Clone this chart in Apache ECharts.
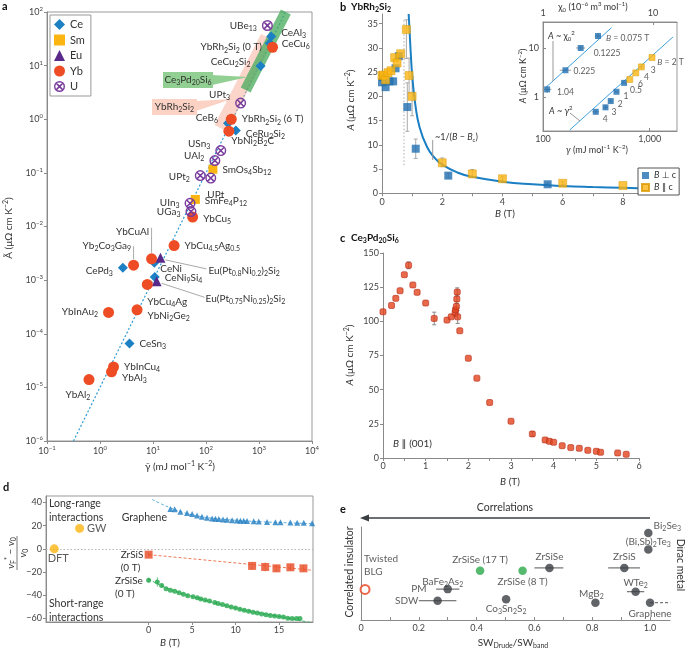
<!DOCTYPE html>
<html>
<head>
<meta charset="utf-8">
<script src="https://cdn.jsdelivr.net/npm/echarts@6/dist/echarts.min.js"></script>
<style>
html, body { margin: 0; padding: 0; background: #fff; }
#main { width: 685px; height: 651px; }
</style>
</head>
<body>
<div id="main"></div>
<script>
const FONT = 'Lato, "Noto Sans", "DejaVu Sans", sans-serif';

// ---- a: Kadowaki-Woods plot ----
const aNames = ['UBe_{13}', 'CeAl_3', 'CeCu_6', 'YbRh_2Si_2 (0 T)', 'CeCu_2Si_2', 'UPt_3', 'YbRh_2Si_2 (6 T)', 'CeB_6',
  'CeRu_2Si_2', 'YbNi_2B_2C', 'USn_3', 'UAl_2', 'SmOs_4Sb_{12}', 'UPt_2', 'UPt', 'SmFe_4P_{12}', 'UIn_3', 'UGa_3', 'YbCu_5',
  'YbCu_{4.5}Ag_{0.5}', 'Yb_2Co_3Ga_9', 'YbCuAl', 'Eu(Pt_{0.8}Ni_{0.2})_2Si_2', 'CeNi', 'CePd_3', 'CeNi_9Si_4',
  'Eu(Pt_{0.75}Ni_{0.25})_2Si_2', 'YbCu_4Ag', 'YbInAu_2', 'YbNi_2Ge_2', 'CeSn_3', 'YbInCu_4', 'YbAl_3', 'YbAl_2'];
const aGroup = ['U', 'Ce', 'Ce', 'Yb', 'Ce', 'U', 'Yb', 'Ce', 'Ce', 'Yb', 'U', 'U', 'Sm', 'U', 'U', 'Sm', 'U', 'U', 'Yb',
  'Yb', 'Yb', 'Yb', 'Eu', 'Ce', 'Ce', 'Ce', 'Eu', 'Yb', 'Yb', 'Yb', 'Ce', 'Yb', 'Yb', 'Yb'];
const aGamma = [1440, 1700, 1590, 1800, 1070, 450, 300, 260, 365, 270, 190, 147, 135, 78, 123, 63, 50, 52, 56,
  25, 4.3, 9.4, 13.8, 10.6, 2.7, 10.8, 11.7, 7.8, 1.45, 5, 3.6, 1.8, 1.65, 0.62];
const aA = [56, 35, 26, 22, 9.8, 2.0, 1.0, 0.84, 0.62, 0.6, 0.26, 0.17, 0.117, 0.089, 0.08, 0.032, 0.027, 0.019, 0.015,
  0.0044, 0.0019, 0.0025, 0.0026, 0.0021, 0.0017, 0.00114, 0.00095, 0.00083, 0.00025, 0.00028, 0.000066, 0.000024, 0.0000195, 0.000014];
const kwGamma = [0.316, 3162];
const kwA = [1e-6, 100];
const pinkBandGamma = [190, 1430];
const pinkBandA = [0.68, 34];
const greenBandGamma = [560, 3210];
const greenBandA = [3.5, 100];

// ---- b: YbRh2Si2 ----
const bPerpB = [0, 0.03, 0.12, 0.25, 0.37, 0.45, 0.56, 0.84, 1.12, 2.2, 5.5];
const bPerpA = [22.9, 24.0, 21.9, 23.1, 23.1, 25.8, 28.3, 17.8, 9.2, 3.65, 1.86];
const bParB = [0, 0.05, 0.12, 0.2, 0.3, 0.42, 0.5, 0.62, 0.81, 0.9, 1.0, 2.0, 3.0, 4.0, 6.0, 8.0];
const bParA = [24.3, 24.4, 23.4, 24.9, 25.3, 28.0, 26.9, 28.8, 33.8, 24.3, 20.0, 6.3, 4.0, 3.0, 2.07, 1.6];
const bErr = [[0.81, 33.8, 27.8, 35.8], [0.84, 17.8, 12.8, 22.8], [0.9, 24.3, 20.7, 27.9], [1.0, 20.0, 16.0, 24.0],
  [1.12, 9.2, 7.2, 11.2], [2.0, 6.3, 5.5, 7.3], [2.2, 3.65, 3.2, 4.1], [3.0, 4.0, 3.3, 4.9], [4.0, 3.0, 2.7, 3.4],
  [5.5, 1.86, 1.6, 2.1], [6.0, 2.07, 1.8, 2.4]];
const bCurveB = [0.885, 0.92, 0.96, 1.0, 1.1, 1.25, 1.5, 1.75, 2, 2.5, 3, 4, 5, 6, 7, 8, 8.5];
const bCurveA = [37, 33, 28.3, 24.6, 18.6, 13.6, 9.5, 7.3, 5.9, 4.3, 3.4, 2.4, 1.85, 1.5, 1.28, 1.12, 1.05];
const bBcB = [0.73, 0.73];
const bBcA = [5.8, 36];

// inset of b
const iChiX = [1.09, 1.6, 2.2, 3.16];
const iChiA = [1.42, 3.5, 10, 17.6];
const iChiLab = ['1.04', '0.225', '0.1225', '$B$ = 0.075 T'];
const iGamBlueX = [312, 385, 431, 488, 575];
const iGamBlueA = [0.494, 0.61, 0.82, 1.27, 1.93];
const iGamBlueLab = ['4', '3', '2', '1', '0.5'];
const iGamYelX = [650, 740, 835, 1050];
const iGamYelA = [2.27, 3.09, 4.1, 6.37];
const iGamYelLab = ['6', '4', '3', '$B$ = 2 T'];
const iChiLineX = [1.06, 4.19];
const iChiLineA = [1.55, 26];
const iGamLineX = [178, 1650];
const iGamLineA = [0.21, 16.8];
const iChiErrH = [[1.09, 1.42, 1.0, 1.19], [1.6, 3.5, 1.42, 1.8], [2.2, 10, 2.0, 2.42], [3.16, 17.6, 2.95, 3.38]];
const iChiErrV = [[1.09, 1.42, 1.2, 1.68], [2.2, 10, 9, 11], [3.16, 17.6, 15.5, 20]];
const iGamErrH = [[312, 0.494, 290, 335], [385, 0.61, 365, 405], [431, 0.82, 410, 452], [488, 1.27, 465, 512], [575, 1.93, 550, 600], [835, 4.1, 800, 870]];
const iGamErrV = [[312, 0.494, 0.44, 0.55], [385, 0.61, 0.55, 0.68], [431, 0.82, 0.76, 0.9], [835, 4.1, 3.7, 4.5]];

// ---- c: Ce3Pd20Si6 ----
const cB = [0, 0.2, 0.3, 0.4, 0.5, 0.6, 0.7, 0.8, 1.0, 1.2, 1.5, 1.6, 1.69, 1.7, 1.72, 1.73, 1.74, 1.75, 1.8, 2.0,
  2.2, 2.5, 3.0, 3.5, 3.8, 3.9, 4.0, 4.2, 4.4, 4.6, 4.8, 5.0, 5.1, 5.5, 5.7];
const cA = [107, 111.6, 116.8, 122.4, 134.1, 141, 126.6, 121.2, 113.4, 102.1, 100.9, 103.3, 106.5, 108.5, 110.9, 116.3, 121.4, 103.3, 93.1, 73,
  58.4, 40.6, 26.9, 17.6, 13.2, 12.2, 11.5, 9.0, 7.6, 7.1, 5.6, 4.9, 4.2, 3.7, 2.7];
const cErr = [[0.6, 141, 138.5, 143.5], [1.2, 102.1, 97.5, 106.7], [1.69, 106.5, 103.5, 109.5], [1.72, 110.9, 107, 114.5],
  [1.73, 116.3, 113, 119.5], [1.74, 121.4, 118.5, 124.5], [1.75, 103.3, 98.5, 108], [3.5, 17.6, 16, 19.2]];

// ---- d: Fermi velocity renormalization ----
const dGrB = [2.5, 3.0, 3.65, 4.42, 5.0, 5.57, 6.14, 6.72, 7.3, 7.68, 8.06, 8.56, 9.02, 9.6, 10.17, 10.55, 10.93, 11.32,
  12.08, 12.66, 13.62, 14.58, 15.16, 16.3, 17.08, 17.84, 18.8];
const dGrV = [34.4, 34.0, 32.0, 30.9, 30.0, 28.8, 27.6, 26.8, 26.2, 25.9, 25.6, 25.3, 25.0, 24.7, 24.4, 24.1, 24.1, 24.0,
  23.8, 23.5, 23.2, 22.9, 22.9, 22.6, 22.4, 22.4, 22.1];
const dGrFitB = [0.4, 1.5, 2.5, 4, 6, 8, 10, 13, 16, 18.9];
const dGrFitV = [42.6, 38.5, 35.3, 31.3, 27.8, 25.9, 24.6, 23.3, 22.4, 21.6];
const dSB = [0, 11.9, 13.4, 14.7, 16.3, 17.8];
const dSV = [-5, -14.7, -15.6, -16.8, -15.9, -16.8];
const dSFitB = [0, 18.9];
const dSFitV = [-5, -18.5];
const dSErr = [[0, -5, -7, -3], [11.9, -14.7, -18, -11.4], [13.4, -15.6, -19.5, -11.7], [14.7, -16.8, -19.8, -13.8],
  [16.3, -15.9, -19, -12.8], [17.8, -16.8, -19.5, -14]];
const dSeB = [0, 1, 1.5, 2, 2.5, 3, 3.5, 4, 4.5, 5.1, 5.6, 6, 6.5, 7, 7.6, 8, 8.5, 9, 9.5, 10, 10.5, 11, 11.5, 12, 12.5,
  13, 13.5, 14, 14.5, 15, 15.5, 16, 16.5, 17, 17.4];
const dSeV = [-27, -28.5, -31.5, -34.4, -35.6, -36.5, -37.9, -39.1, -40.3, -41.2, -42.1, -43.2, -44.1, -45.0, -46.2,
  -47.1, -47.9, -49.1, -50, -50.9, -52.1, -52.9, -53.8, -54.7, -55.3, -56.2, -56.8, -57.4, -57.9, -58.2, -58.8, -59.7, -60, -60, -60];
const dSeFitB = [0, 2, 5, 10, 15, 18.9];
const dSeFitV = [-26, -33.5, -41, -51, -58.3, -63.8];
const dSeErr = [[0, -27, -29, -25], [1, -28.5, -32.5, -24.5], [1.5, -31.5, -33.5, -29.5]];
const dTheoryNames = ['GW', 'DFT'];
const dTheoryB = [-7.94, -10.85];
const dTheoryV = [17.6, 0];

// ---- e: spectral weight ----
const eDarkNames = ['Bi_2Se_3', '(Bi,Sb)_2Te_3', 'ZrSiS', 'ZrSiSe', 'PM', 'SDW', 'Co_3Sn_2S_2', 'MgB_2', 'WTe_2', 'Graphene'];
const eDarkX = [0.994, 0.994, 0.911, 0.652, 0.3, 0.265, 0.502, 0.811, 0.95, 1.0];
const eDarkY = [93.6, 75.7, 56, 56, 33.2, 20.7, 22.2, 18.6, 30.4, 18.6];
const eGreenNames = ['ZrSiSe (17 T)', 'ZrSiSe (8 T)'];
const eGreenX = [0.412, 0.559];
const eGreenY = [52.9, 52.9];
const eRedNames = ['Twisted\nBLG'];
const eRedX = [0.014];
const eRedY = [32.9];
const eNoteNames = ['BaFe_2As_2'];
const eNoteX = [0.3];
const eNoteY = [33.2];
const eErr = [[0.911, 56, 0.855, 0.965], [0.652, 56, 0.6, 0.7], [0.3, 33.2, 0.26, 0.34], [0.265, 20.7, 0.2, 0.33], [0.95, 30.4, 0.92, 0.98]];
const eGraphDashX = [1.0, 1.07];
const eGraphDashY = [18.6, 18.6];

// rich text helpers: _x / _{..} subscript, ^x / ^{..} superscript, $..$ italic
function makeRich(sz, col, wt) {
  col = col || '#333';
  wt = wt || 'normal';
  const base = { fontFamily: FONT, color: col, fill: col, fontWeight: wt };
  return {
    n: Object.assign({}, base, { fontSize: sz, lineHeight: Math.round(sz * 1.3) }),
    i: Object.assign({}, base, { fontSize: sz, lineHeight: Math.round(sz * 1.3), fontStyle: 'italic' }),
    s: Object.assign({}, base, { fontSize: Math.round(sz * 0.68), lineHeight: Math.round(sz * 0.55), verticalAlign: 'bottom' }),
    p: Object.assign({}, base, { fontSize: Math.round(sz * 0.68), lineHeight: Math.round(sz * 0.6), verticalAlign: 'top' })
  };
}
function rt(str) {
  let out = '', buf = '', ital = false;
  const flush = function () {
    if (buf) { out += '{' + (ital ? 'i' : 'n') + '|' + buf + '}'; buf = ''; }
  };
  for (let i = 0; i < str.length; i++) {
    const c = str[i];
    if (c === '_' || c === '^') {
      flush();
      let grp;
      if (str[i + 1] === '{') { const j = str.indexOf('}', i); grp = str.slice(i + 2, j); i = j; }
      else { grp = str[i + 1]; i++; }
      out += '{' + (c === '_' ? 's' : 'p') + '|' + grp + '}';
    } else if (c === '$') {
      flush(); ital = !ital;
    } else if (c === '\n') {
      flush(); out += '\n';
    } else buf += c;
  }
  flush();
  return out;
}

const R10 = makeRich(10);
const R9 = makeRich(9);
const R85 = makeRich(8.5);
const RT9 = makeRich(9, '#444');

function axis(o) {
  const base = {
    axisLine: { show: true, onZero: false, lineStyle: { color: '#8a8a8a', width: 1 } },
    axisTick: { show: true, length: 3, lineStyle: { color: '#8a8a8a' } },
    axisLabel: { color: '#444', fontSize: 9, fontFamily: FONT, margin: 4 },
    splitLine: { show: false }
  };
  for (const k in o) {
    if (base[k] && typeof o[k] === 'object' && !Array.isArray(o[k])) base[k] = Object.assign({}, base[k], o[k]);
    else base[k] = o[k];
  }
  return base;
}
const logFmt = function (v) {
  const e = Math.round(Math.log10(v));
  return '{n|10}{p|' + String(e).replace('-', '−') + '}';
};
const minus = function (v) { return String(v).replace('-', '−'); };
function range(a, b, st) { const r = []; for (let v = a; v <= b + 1e-9; v += st) r.push(Math.round(v * 1000) / 1000); return r; }

function errV(color, cap) {
  return function (params, api) {
    const x = api.value(0), lo = api.value(2), hi = api.value(3);
    const a = api.coord([x, lo]), b = api.coord([x, hi]);
    const st = { stroke: color, lineWidth: 1 };
    const ch = [{ type: 'line', shape: { x1: a[0], y1: a[1], x2: b[0], y2: b[1] }, style: st }];
    if (cap) {
      ch.push({ type: 'line', shape: { x1: a[0] - cap, y1: a[1], x2: a[0] + cap, y2: a[1] }, style: st });
      ch.push({ type: 'line', shape: { x1: b[0] - cap, y1: b[1], x2: b[0] + cap, y2: b[1] }, style: st });
    }
    return { type: 'group', children: ch };
  };
}
function errH(color, cap) {
  return function (params, api) {
    const y = api.value(1), lo = api.value(2), hi = api.value(3);
    const a = api.coord([lo, y]), b = api.coord([hi, y]);
    const st = { stroke: color, lineWidth: 1 };
    const ch = [{ type: 'line', shape: { x1: a[0], y1: a[1], x2: b[0], y2: b[1] }, style: st }];
    if (cap) {
      ch.push({ type: 'line', shape: { x1: a[0], y1: a[1] - cap, x2: a[0], y2: a[1] + cap }, style: st });
      ch.push({ type: 'line', shape: { x1: b[0], y1: b[1] - cap, x2: b[0], y2: b[1] + cap }, style: st });
    }
    return { type: 'group', children: ch };
  };
}
function errSeries(data, xi, yi, render, z) {
  return { type: 'custom', xAxisIndex: xi, yAxisIndex: yi, renderItem: render, data: data, z: z || 3, silent: true, clip: false };
}
function zip(xs, ys) { return xs.map(function (x, i) { return [x, ys[i]]; }); }
function labelled(names, xs, ys, pos) {
  return names.map(function (n, i) {
    const lp = pos[n] || ['right', 0, 0];
    const lab = { position: lp[0], offset: [lp[1], lp[2]] };
    if (lp[3]) lab.align = lp[3];
    return { name: n, value: [xs[i], ys[i]], label: lab };
  });
}

const U_PATH = 'path://M5,0A5,5,0,1,1,5,10A5,5,0,1,1,5,0ZM5,1.3A3.7,3.7,0,1,0,5,8.7A3.7,3.7,0,1,0,5,1.3Z' +
  'M2.7,1.7L8.3,7.3L7.3,8.3L1.7,2.7ZM8.3,2.7L2.7,8.3L1.7,7.3L7.3,1.7Z';
const aGroups = [
  { name: 'Ce', symbol: 'diamond', size: 10, color: '#1b80c4' },
  { name: 'Sm', symbol: 'rect', size: 9, color: '#fbb512' },
  { name: 'Eu', symbol: 'triangle', size: 10, color: '#5a2a8a' },
  { name: 'Yb', symbol: 'circle', size: 11, color: '#ee4c24' },
  { name: 'U', symbol: U_PATH, size: 11, color: '#7a3c9c' }
];
const aLabel = {
  'UBe_{13}': ['left', 0, 0], 'CeAl_3': ['right', 0, -4], 'CeCu_6': ['right', 2, 0], 'YbRh_2Si_2 (0 T)': ['left', 0, 0],
  'CeCu_2Si_2': ['left', 0, -4], 'UPt_3': ['left', 0, -8], 'YbRh_2Si_2 (6 T)': ['right', 0, 0], 'CeB_6': ['left', 0, -6],
  'CeRu_2Si_2': ['right', 0, 3], 'YbNi_2B_2C': ['right', -8, 10], 'USn_3': ['left', 0, -7], 'UAl_2': ['left', 0, -5],
  'SmOs_4Sb_{12}': ['right', 0, 1], 'UPt_2': ['left', 0, 1], 'UPt': ['bottom', 5, 0], 'SmFe_4P_{12}': ['right', 0, 1],
  'UIn_3': ['left', 0, -1], 'UGa_3': ['left', 0, 0], 'YbCu_5': ['right', 0, 2], 'YbCu_{4.5}Ag_{0.5}': ['right', 0, 0],
  'Yb_2Co_3Ga_9': ['left', 8, -19], 'YbCuAl': ['left', 8, -27], 'Eu(Pt_{0.8}Ni_{0.2})_2Si_2': ['right', 38, 13],
  'CeNi': ['right', -4, 6], 'CePd_3': ['left', 0, 3], 'CeNi_9Si_4': ['right', 0, 1],
  'Eu(Pt_{0.75}Ni_{0.25})_2Si_2': ['right', 39, 17], 'YbCu_4Ag': ['bottom', 20, 0], 'YbInAu_2': ['left', 0, -1],
  'YbNi_2Ge_2': ['right', 0, 6], 'CeSn_3': ['right', 0, 0], 'YbInCu_4': ['right', 0, 0], 'YbAl_3': ['right', 0, 6],
  'YbAl_2': ['bottom', -11, -2]
};
const aLeaders = {
  'Yb_2Co_3Ga_9': [0, -6, 0, -19], 'YbCuAl': [0, -6, 0, -31],
  'Eu(Pt_{0.8}Ni_{0.2})_2Si_2': [5, 2, 46, 11], 'Eu(Pt_{0.75}Ni_{0.25})_2Si_2': [5, 2, 48, 16]
};
const iLabel = {
  '1.04': ['right', 2, 3], '0.225': ['right', 0, 1], '0.1225': ['right', 5, 5], '$B$ = 0.075 T': ['right', 0, 2]
};
const iLabelBlue = { '4': ['right', -1, 7], '3': ['right', -2, 5], '2': ['right', -1, 3], '1': ['right', -1, 4], '0.5': ['right', -2, 7] };
const iLabelYel = { '6': ['right', 0, 5], '4': ['right', 0, 4], '3': ['right', 1, 3], '$B$ = 2 T': ['right', -3, 5] };
const eLabel = {
  'Bi_2Se_3': ['right', -4, -7], '(Bi,Sb)_2Te_3': ['top', 0, 8], 'ZrSiS': ['top', 0, 5], 'ZrSiSe': ['top', 0, 5],
  'PM': ['left', -12, 0], 'SDW': ['left', -10, 0], 'Co_3Sn_2S_2': ['bottom', 0, -6], 'MgB_2': ['top', -4, 7],
  'WTe_2': ['top', 0, 7], 'Graphene': ['bottom', 0, -5], 'ZrSiSe (17 T)': ['top', 0, 5], 'ZrSiSe (8 T)': ['bottom', 0, -5],
  'Twisted\nBLG': ['top', -1, -1, 'left'], 'BaFe_2As_2': ['top', -5, 4]
};
const dLabel = { 'GW': ['right', -2, 0], 'DFT': ['bottom', 4, -7] };

const chart = echarts.init(document.getElementById('main'));

const series = [];
// a
series.push({ type: 'line', xAxisIndex: 0, yAxisIndex: 0, data: zip(kwGamma, kwA), symbol: 'none', silent: true, z: 1,
  lineStyle: { color: '#2e9bd6', width: 1.2, type: [2, 2] } });
series.push({ type: 'line', xAxisIndex: 0, yAxisIndex: 0, data: zip(pinkBandGamma, pinkBandA), symbol: 'none', silent: true, z: 1,
  lineStyle: { color: 'rgba(247,172,150,0.5)', width: 14 } });
series.push({ type: 'line', xAxisIndex: 0, yAxisIndex: 0, data: zip(greenBandGamma, greenBandA), symbol: 'none', silent: true, z: 1,
  lineStyle: { color: 'rgba(70,170,90,0.75)', width: 11 } });
aGroups.forEach(function (g) {
  const idx = aNames.map(function (n, i) { return i; }).filter(function (i) { return aGroup[i] === g.name; });
  series.push({
    name: g.name, type: 'scatter', xAxisIndex: 0, yAxisIndex: 0, symbol: g.symbol, symbolSize: g.size, z: 5,
    itemStyle: { color: g.color, opacity: 1 },
    label: { show: true, formatter: function (p) { return rt(p.name); }, rich: R10 },
    data: labelled(idx.map(function (i) { return aNames[i]; }), idx.map(function (i) { return aGamma[i]; }),
      idx.map(function (i) { return aA[i]; }), aLabel)
  });
});
// b
series.push({ type: 'line', xAxisIndex: 1, yAxisIndex: 1, data: zip(bBcB, bBcA), symbol: 'none', silent: true,
  lineStyle: { color: '#aaa', width: 1, type: [1.5, 2] } });
series.push({ type: 'line', xAxisIndex: 1, yAxisIndex: 1, data: zip(bCurveB, bCurveA), symbol: 'none', smooth: true, silent: true,
  lineStyle: { color: '#1b7fc4', width: 2 } });
series.push(errSeries(bErr, 1, 1, errV('#aaa', 2)));
series.push({ name: 'B ⊥ c', type: 'scatter', xAxisIndex: 1, yAxisIndex: 1, symbol: 'rect', symbolSize: 8, z: 5,
  itemStyle: { color: '#1f6fb0' }, data: zip(bPerpB, bPerpA) });
series.push({ name: 'B ∥ c', type: 'scatter', xAxisIndex: 1, yAxisIndex: 1, symbol: 'rect', symbolSize: 8, z: 5,
  itemStyle: { color: '#fbb512', borderColor: '#d99a00', borderWidth: 0.6 }, data: zip(bParB, bParA) });
// inset
series.push({ type: 'line', xAxisIndex: 3, yAxisIndex: 2, data: zip(iChiLineX, iChiLineA), symbol: 'none', silent: true,
  lineStyle: { color: '#3ea0dd', width: 1 } });
series.push({ type: 'line', xAxisIndex: 2, yAxisIndex: 2, data: zip(iGamLineX, iGamLineA), symbol: 'none', silent: true,
  lineStyle: { color: '#3ea0dd', width: 1 } });
series.push(errSeries(iChiErrH, 3, 2, errH('#999', 0)));
series.push(errSeries(iChiErrV, 3, 2, errV('#999', 0)));
series.push(errSeries(iGamErrH, 2, 2, errH('#999', 0)));
series.push(errSeries(iGamErrV, 2, 2, errV('#999', 0)));
series.push({ type: 'scatter', xAxisIndex: 3, yAxisIndex: 2, symbol: 'rect', symbolSize: 6, z: 5, itemStyle: { color: '#1f6fb0' },
  label: { show: true, formatter: function (p) { return rt(p.name); }, rich: R85 }, data: labelled(iChiLab, iChiX, iChiA, iLabel) });
series.push({ type: 'scatter', xAxisIndex: 2, yAxisIndex: 2, symbol: 'rect', symbolSize: 6, z: 5, itemStyle: { color: '#1f6fb0' },
  label: { show: true, formatter: function (p) { return rt(p.name); }, rich: R85 }, data: labelled(iGamBlueLab, iGamBlueX, iGamBlueA, iLabelBlue) });
series.push({ type: 'scatter', xAxisIndex: 2, yAxisIndex: 2, symbol: 'rect', symbolSize: 6, z: 5,
  itemStyle: { color: '#fbb512', borderColor: '#d99a00', borderWidth: 0.6 },
  label: { show: true, formatter: function (p) { return rt(p.name); }, rich: R85 }, data: labelled(iGamYelLab, iGamYelX, iGamYelA, iLabelYel) });
// c
series.push(errSeries(cErr, 4, 3, errV('#888', 2)));
series.push({ type: 'scatter', xAxisIndex: 4, yAxisIndex: 3, symbol: 'roundRect', symbolSize: 6, z: 5,
  itemStyle: { color: '#e2451e', borderColor: '#b8301a', borderWidth: 0.8 }, data: zip(cB, cA) });
// d
series.push({ type: 'line', xAxisIndex: 5, yAxisIndex: 4, data: zip(dGrFitB, dGrFitV), symbol: 'none', smooth: true, silent: true,
  lineStyle: { color: '#5aaee0', width: 1, type: [3, 2] } });
series.push({ type: 'line', xAxisIndex: 5, yAxisIndex: 4, data: zip(dSFitB, dSFitV), symbol: 'none', silent: true,
  lineStyle: { color: '#f07a5a', width: 1, type: [3, 2] },
  markLine: { silent: true, symbol: ['none', 'none'], label: { show: false }, lineStyle: { color: '#b5b5b5', type: [1.5, 2], width: 1 },
    data: [{ yAxis: 0 }] } });
series.push({ type: 'line', xAxisIndex: 5, yAxisIndex: 4, data: zip(dSeFitB, dSeFitV), symbol: 'none', smooth: true, silent: true,
  lineStyle: { color: '#45b56a', width: 1, type: [3, 2] } });
series.push(errSeries(dSErr, 5, 4, errV('#f3a08a', 0)));
series.push(errSeries(dSeErr, 5, 4, errV('#70c48a', 0)));
series.push({ type: 'scatter', xAxisIndex: 5, yAxisIndex: 4, symbol: 'triangle', symbolSize: 6, z: 5,
  itemStyle: { color: '#1f7cc2' }, data: zip(dGrB, dGrV) });
series.push({ type: 'scatter', xAxisIndex: 5, yAxisIndex: 4, symbol: 'rect', symbolSize: 8, z: 5,
  itemStyle: { color: '#e84a23' }, data: zip(dSB, dSV) });
series.push({ type: 'scatter', xAxisIndex: 5, yAxisIndex: 4, symbol: 'circle', symbolSize: 5, z: 5,
  itemStyle: { color: '#20a64a' }, data: zip(dSeB, dSeV) });
series.push({ type: 'scatter', xAxisIndex: 5, yAxisIndex: 4, symbol: 'circle', symbolSize: 9, z: 5,
  itemStyle: { color: '#fbb512' },
  label: { show: true, formatter: function (p) { return rt(p.name); }, rich: makeRich(11) },
  data: labelled(dTheoryNames, dTheoryB, dTheoryV, dLabel) });
// e
series.push(errSeries(eErr, 6, 5, errH('#555', 0)));
series.push({ type: 'line', xAxisIndex: 6, yAxisIndex: 5, data: zip(eGraphDashX, eGraphDashY), symbol: 'none', silent: true,
  lineStyle: { color: '#555', width: 1, type: [3, 2] } });
const eLab = { show: true, formatter: function (p) { return rt(p.name); }, rich: R10 };
series.push({ type: 'scatter', xAxisIndex: 6, yAxisIndex: 5, symbol: 'circle', symbolSize: 8.5, z: 5,
  itemStyle: { color: '#3a3f44' }, label: eLab, data: labelled(eDarkNames, eDarkX, eDarkY, eLabel) });
series.push({ type: 'scatter', xAxisIndex: 6, yAxisIndex: 5, symbol: 'circle', symbolSize: 8.5, z: 5,
  itemStyle: { color: '#2aa84a' }, label: eLab, data: labelled(eGreenNames, eGreenX, eGreenY, eLabel) });
series.push({ type: 'scatter', xAxisIndex: 6, yAxisIndex: 5, symbol: 'circle', symbolSize: 9, z: 5,
  itemStyle: { color: '#fff', borderColor: '#e8401c', borderWidth: 2 }, label: eLab, data: labelled(eRedNames, eRedX, eRedY, eLabel) });
series.push({ type: 'scatter', xAxisIndex: 6, yAxisIndex: 5, symbolSize: 0, z: 5, silent: true,
  label: eLab, data: labelled(eNoteNames, eNoteX, eNoteY, eLabel) });

const option = {
  animation: false,
  backgroundColor: '#fff',
  textStyle: { fontFamily: FONT },
  grid: [
    { left: 47, top: 12, width: 265, height: 429, show: true, borderColor: '#999', borderWidth: 1 },
    { left: 382, top: 14, width: 256, height: 179.3 },
    { left: 543, top: 22, width: 134, height: 109, show: true, borderColor: '#999', borderWidth: 1 },
    { left: 383, top: 253, width: 256, height: 205 },
    { left: 46, top: 496, width: 267, height: 126, show: true, borderColor: '#999', borderWidth: 1 },
    { left: 361, top: 527, width: 309, height: 93 }
  ],
  xAxis: [
    axis({ gridIndex: 0, type: 'log', min: 0.1, max: 1e4, axisLabel: { formatter: logFmt, rich: RT9 } }),
    axis({ gridIndex: 1, type: 'value', min: 0, max: 8.5, axisLabel: { customValues: [0, 2, 4, 6, 8] }, axisTick: { customValues: range(0, 8, 1) } }),
    axis({ gridIndex: 2, type: 'log', min: 100, max: 1800, axisTick: { inside: true },
      axisLabel: { showMaxLabel: false, formatter: function (v) { return v >= 1000 ? '1,000' : String(Math.round(v)); } } }),
    axis({ gridIndex: 2, type: 'log', position: 'top', min: 1, max: 16.5, axisTick: { inside: true },
      axisLabel: { showMaxLabel: false, formatter: function (v) { return String(Math.round(v)); } } }),
    axis({ gridIndex: 3, type: 'value', min: 0, max: 6, axisLabel: { customValues: range(0, 6, 1) }, axisTick: { customValues: range(0, 6, 0.5) } }),
    axis({ gridIndex: 4, type: 'value', min: -11.8, max: 18.9, axisLabel: { customValues: [0, 5, 10, 15] }, axisTick: { customValues: [0, 5, 10, 15] } }),
    axis({ gridIndex: 5, type: 'value', min: 0, max: 1.069, axisTick: { inside: true, customValues: range(0, 1, 0.1) },
      axisLabel: { customValues: range(0, 1, 0.2), formatter: function (v) { return v === 0 ? '0' : v.toFixed(1); } } })
  ],
  yAxis: [
    axis({ gridIndex: 0, type: 'log', min: 1e-6, max: 100, axisLabel: { formatter: logFmt, rich: RT9 } }),
    axis({ gridIndex: 1, type: 'value', min: 0, max: 37, axisLabel: { customValues: range(0, 35, 5) }, axisTick: { customValues: range(0, 35, 5) } }),
    axis({ gridIndex: 2, type: 'log', min: 0.2, max: 34, axisTick: { inside: true },
      axisLabel: { showMaxLabel: false, showMinLabel: false, formatter: function (v) { return String(Math.round(v)); } } }),
    axis({ gridIndex: 3, type: 'value', min: 0, max: 150, axisLabel: { customValues: range(0, 150, 25) }, axisTick: { customValues: range(0, 150, 25) } }),
    axis({ gridIndex: 4, type: 'value', min: -63, max: 45.5, axisLabel: { customValues: range(-60, 40, 20), formatter: minus },
      axisTick: { customValues: range(-60, 40, 20) } }),
    axis({ gridIndex: 5, type: 'value', min: 0, max: 100, axisLabel: { show: false }, axisTick: { show: false } })
  ],
  legend: [
    { data: ['Ce', 'Sm', 'Eu', 'Yb', 'U'], left: 50, top: 15, orient: 'vertical', itemWidth: 11, itemHeight: 11, itemGap: 4.5,
      padding: [4, 6, 4, 4], borderColor: '#999', borderWidth: 1, selectedMode: false,
      textStyle: { fontSize: 11, color: '#333', fontFamily: FONT } },
    { data: ['B ⊥ c', 'B ∥ c'], left: 638, top: 168, orient: 'vertical', itemWidth: 7, itemHeight: 7, itemGap: 3,
      padding: [3, 3], borderColor: '#555', borderWidth: 1, selectedMode: false,
      formatter: function (n) { return '{i|B}{n|' + n.slice(1) + '}'; },
      textStyle: { fontSize: 9, color: '#333', fontFamily: FONT, rich: R9 } }
  ],
  series: series
};
chart.setOption(option);

// annotations
function txt(x, y, s, sz, opts, extra) {
  const el = { type: 'text', x: x, y: y, z: 50,
    style: Object.assign({ text: rt(s), rich: makeRich(sz || 10), fontSize: sz || 10, fontFamily: FONT, fill: '#333',
      align: 'left', verticalAlign: 'middle' }, opts || {}) };
  return Object.assign(el, extra || {});
}
function boldTxt(x, y, s, sz) {
  return { type: 'text', x: x, y: y, z: 50,
    style: { text: rt(s), rich: makeRich(sz, '#111', 'bold'), fontSize: sz, fontWeight: 'bold', fontFamily: FONT, fill: '#111',
      align: 'left', verticalAlign: 'middle' } };
}
function seg(x1, y1, x2, y2, col, w) {
  return { type: 'line', z: 40, shape: { x1: x1, y1: y1, x2: x2, y2: y2 }, style: { stroke: col || '#999', lineWidth: w || 1 } };
}
const C = { align: 'center' };
const graphics = [
  boldTxt(2, 6, 'a', 11), boldTxt(340, 7, 'b', 11), boldTxt(351, 7, 'YbRh_2Si_2', 10),
  boldTxt(340, 238, 'c', 11), boldTxt(351, 238, 'Ce_3Pd_{20}Si_6', 10),
  boldTxt(3, 487, 'd', 11), boldTxt(340, 509, 'e', 11),
  // axis titles
  txt(9, 228, 'Ã (μΩ cm K^{−2})', 10, C, { rotation: Math.PI / 2 }),
  txt(180, 467, 'γ̃ (mJ mol^{−1} K^{−2})', 10, C),
  txt(351, 100, '$A$ (μΩ cm K^{−2})', 10, C, { rotation: Math.PI / 2 }),
  txt(505, 214, '$B$ (T)', 10, C),
  txt(593, 7, 'χ_0 (10^{−6} m^3 mol^{−1})', 9, C),
  txt(597, 150, '$γ$ (mJ mol^{−1} K^{−2})', 9, C),
  txt(523, 76, '$A$ (μΩ cm K^{−2})', 9, C, { rotation: Math.PI / 2 }),
  txt(350, 355, '$A$ (μΩ cm K^{−2})', 10, C, { rotation: Math.PI / 2 }),
  txt(510, 482, '$B$ (T)', 10, C),
  txt(170, 643, '$B$ (T)', 10, C),
  txt(513, 643, 'SW_{Drude}/SW_{band}', 10, C),
  { type: 'group', x: 17, y: 553, rotation: Math.PI / 2, z: 50, children: [
    txt(0, -6, '$v$_F^* − $v$_0', 10, C),
    seg(-17, 0, 17, 0, '#555', 0.8),
    txt(0, 6, '$v$_0', 10, C)
  ] },
  // a callouts
  { type: 'polygon', z: 2, shape: { points: [[212, 75], [248, 77], [212, 85]] }, style: { fill: '#92cf92' } },
  { type: 'rect', z: 2, shape: { x: 163, y: 72, width: 50, height: 16 }, style: { fill: '#92cf92' } },
  txt(188, 80, 'Ce_3Pd_{20}Si_6', 10, C),
  { type: 'polygon', z: 2, shape: { points: [[196, 101], [232, 99], [196, 111]] }, style: { fill: '#fbd2c4' } },
  { type: 'rect', z: 2, shape: { x: 152, y: 99, width: 45, height: 16 }, style: { fill: '#fbd2c4' } },
  txt(174.5, 107, 'YbRh_2Si_2', 10, C),
  // b annotations
  txt(435, 137, '~1/($B$ − $B$_c)', 9),
  seg(432.7, 140, 432.7, 160, '#999'),
  txt(548, 36, '$A$ ~ χ_0^2', 9),
  seg(553, 41, 553, 81, '#999'),
  txt(549, 111, '$A$ ~ $γ$^2', 9),
  seg(570, 113, 580, 121, '#999'),
  // c annotation
  txt(393, 444, '$B$ ∥ (001)', 10),
  // d annotations
  txt(49, 497, 'Long-range\ninteractions', 10.5, { verticalAlign: 'top' }),
  txt(49, 597, 'Short-range\ninteractions', 10.5, { verticalAlign: 'top' }),
  txt(121.7, 518, 'Graphene', 10.5),
  txt(120.7, 548, 'ZrSiS\n(0 T)', 10, { verticalAlign: 'top' }),
  txt(115, 574, 'ZrSiSe\n(0 T)', 10, { verticalAlign: 'top' }),
  // e annotations
  txt(505, 508, 'Correlations', 10.5, C),
  seg(650, 518, 366, 518, '#3a3f44', 1.5),
  { type: 'polygon', z: 40, shape: { points: [[360, 518], [369, 514.5], [369, 521.5]] }, style: { fill: '#3a3f44' } },
  txt(350, 572, 'Correlated insulator', 10.5, C, { rotation: Math.PI / 2 }),
  txt(680, 565, 'Dirac metal', 10.5, C, { rotation: -Math.PI / 2 })
];
Object.keys(aLeaders).forEach(function (n) {
  const i = aNames.indexOf(n);
  const p = chart.convertToPixel({ gridIndex: 0 }, [aGamma[i], aA[i]]);
  const d = aLeaders[n];
  graphics.push(seg(p[0] + d[0], p[1] + d[1], p[0] + d[2], p[1] + d[3], '#aaa'));
});
chart.setOption({ graphic: graphics });
</script>
</body>
</html>
